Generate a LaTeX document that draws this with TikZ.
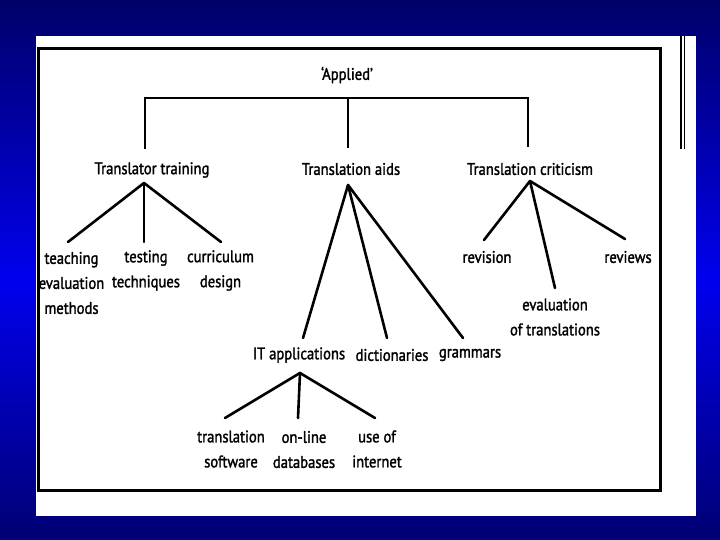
\documentclass[tikz,border=0pt]{standalone}
\usepackage{fontspec}
\setmainfont{PT Sans}[FakeStretch=0.87,FakeBold=1.6]
\begin{document}
\begin{tikzpicture}[x=1pt,y=-1pt,
  lbl/.style={inner sep=0pt,align=center,font=\fontsize{16.8}{25}\selectfont},
  br/.style={line width=2.6pt,line cap=round},
  frame/.style={line width=3pt}]
\useasboundingbox (0,0) rectangle (720,540);
% background
\shade[top color={rgb,255:red,0;green,0;blue,105},bottom color={rgb,255:red,0;green,0;blue,238}] (0,0) rectangle (720,280);
\shade[top color={rgb,255:red,0;green,0;blue,238},bottom color={rgb,255:red,0;green,0;blue,115}] (0,280) rectangle (720,540);
\fill[white] (36,36) rectangle (696,516);
\draw[frame] (38,49) rectangle (660,490);
\draw[line width=1.5pt] (681,36) -- (681,149);
\draw[line width=1.5pt] (684.5,36) -- (684.5,149);
% nodes
\node[lbl] (applied) at (347,75) {‘Applied’};
\node[lbl] (tt) at (152,170) {Translator training};
\node[lbl] (ta) at (351,169) {Translation aids};
\node[lbl] (tc) at (530,169) {Translation criticism};
\node[lbl] (teach) at (71.5,283) {teaching\\evaluation\\methods};
\node[lbl] (test) at (146,270.5) {testing\\techniques};
\node[lbl] (curr) at (220.5,270.5) {curriculum\\design};
\node[lbl] (it) at (299,355) {IT applications};
\node[lbl] (dict) at (392,355) {dictionaries};
\node[lbl] (gram) at (470,355) {grammars};
\node[lbl] (rev) at (487,257) {revision};
\node[lbl] (evt) at (555,317) {evaluation\\of translations};
\node[lbl] (revw) at (628,257) {reviews};
\node[lbl] (tsw) at (231,449) {translation\\software};
\node[lbl] (onl) at (304,449.5) {on-line\\databases};
\node[lbl] (use) at (377,449) {use of\\internet};
% coordinates
\coordinate (barM) at (348,98);
\coordinate (barL) at (145,98);
\coordinate (barR) at (528,98);
\coordinate (ttT) at (145,149);
\coordinate (taT) at (348,148);
\coordinate (tcT) at (528,147);
\coordinate (ttA) at (144,183);
\coordinate (taA) at (348,185);
\coordinate (tcA) at (530,181);
\coordinate (itA) at (300,373);
\coordinate (teachT) at (68,242);
\coordinate (testT) at (144,242);
\coordinate (currT) at (221,242);
\coordinate (itT) at (303,338);
\coordinate (dictT) at (387,338);
\coordinate (gramT) at (463,338);
\coordinate (revT) at (484,240);
\coordinate (evtT) at (555,288);
\coordinate (revwT) at (625,239);
\coordinate (tswT) at (225,418);
\coordinate (onlT) at (298,418);
\coordinate (useT) at (375,418);
% connectors
\draw[br,line cap=butt] (ttT) -- (barL) -- (barR) -- (tcT);
\draw[br,line cap=butt] (barM) -- (taT);
\foreach \a/\b in {ttA/teachT,ttA/testT,ttA/currT,taA/itT,taA/dictT,taA/gramT,tcA/revT,tcA/evtT,tcA/revwT,itA/tswT,itA/onlT,itA/useT}
  \draw[br] (\a) -- (\b);
\end{tikzpicture}
\end{document}
